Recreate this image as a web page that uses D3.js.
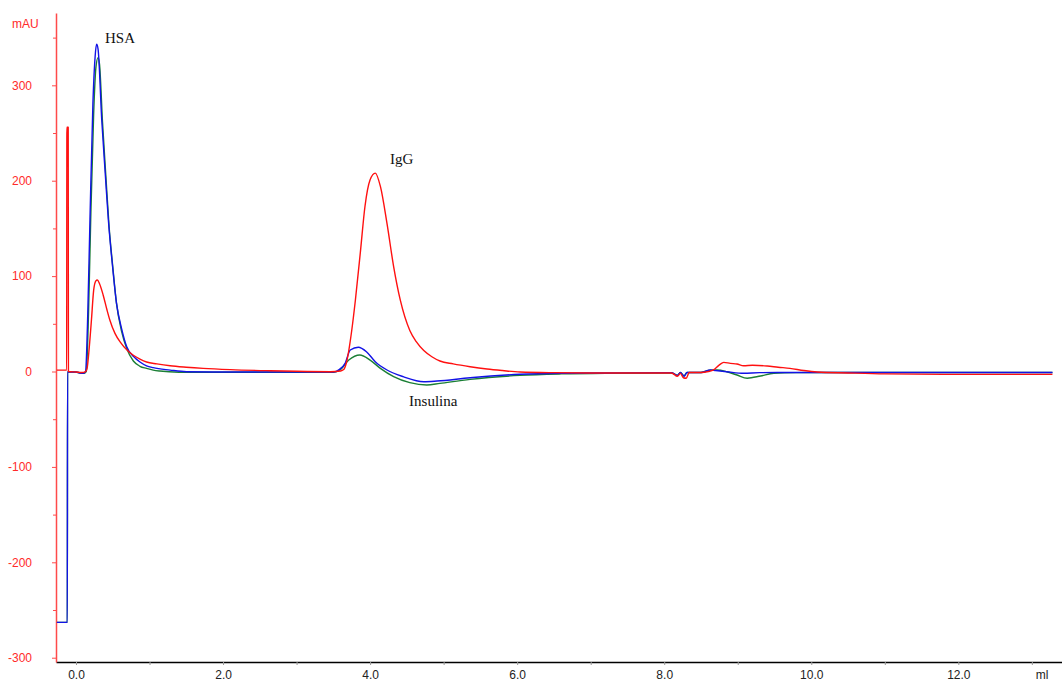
<!DOCTYPE html>
<html>
<head>
<meta charset="utf-8">
<script src="https://cdn.jsdelivr.net/npm/d3@7"></script>
<style>
  body { margin: 0; background: #fff; }
  svg { display: block; }
</style>
</head>
<body>
<div id="chart"></div>
<script>
// trace values: [ml, mAU]
const redTrace = [
  [-0.26, 1.5], [-0.127, 1.5], [-0.124, 256], [-0.106, 256], [-0.103, 0], [0.0, -0.5], [0.08, -1],
  [0.13, 0], [0.15, 3], [0.18, 25], [0.21, 54], [0.24, 85], [0.27, 95], [0.29, 96], [0.32, 92],
  [0.37, 80], [0.42, 65], [0.46, 54], [0.53, 40], [0.6, 31], [0.7, 22], [0.78, 17], [0.87, 13],
  [0.96, 10], [1.1, 8], [1.28, 6], [1.5, 4.5], [1.73, 3.3], [2.1, 2], [2.64, 0.8], [3.0, 0.2],
  [3.46, -0.2], [3.6, 0.5], [3.64, 2], [3.68, 10], [3.71, 22], [3.75, 43], [3.8, 75], [3.87, 127],
  [3.93, 173], [4.0, 201], [4.07, 208], [4.14, 194], [4.23, 155], [4.32, 110], [4.41, 75],
  [4.54, 43], [4.63, 31], [4.73, 22], [4.84, 15.5], [4.95, 11], [5.13, 8], [5.36, 5], [5.59, 2.6],
  [5.8, 1], [6.04, -0.5], [6.5, -1.2], [7.13, -1.5], [7.6, -1.5], [8.1, -1.5], [8.18, -5],
  [8.22, -2], [8.26, -6.5], [8.3, -7], [8.34, -1], [8.5, -1], [8.6, 0], [8.67, 1.6], [8.75, 7],
  [8.81, 9.6], [8.9, 8.5], [8.99, 7.9], [9.08, 6], [9.2, 6.5], [9.4, 5.8], [9.55, 4.5], [9.71, 3.3],
  [9.9, 1], [10.08, -0.5], [10.5, -1.5], [11.0, -2.5], [11.8, -3], [12.5, -3], [13.28, -3]
];
const blueTrace = [
  [-0.26, -263], [-0.118, -263], [-0.115, -0.5], [0.0, -0.5], [0.05, -1.5], [0.1, -2], [0.13, 0],
  [0.16, 60], [0.19, 159], [0.23, 281], [0.26, 330], [0.28, 343], [0.3, 338], [0.35, 264],
  [0.4, 205], [0.44, 159], [0.5, 108], [0.55, 72], [0.62, 45], [0.69, 26], [0.78, 16], [0.87, 10],
  [0.96, 6], [1.05, 4], [1.28, 1.5], [1.5, -0.2], [2.0, -0.5], [3.0, -0.5], [3.5, -0.5], [3.58, 2],
  [3.66, 8.6], [3.73, 22.5], [3.84, 25.4], [3.95, 20.8], [4.07, 10.3], [4.23, 1.6], [4.45, -5.4],
  [4.73, -10.7], [4.91, -10], [5.36, -6.5], [6.04, -2.9], [6.6, -1.8], [7.2, -1.5], [8.1, -1.2],
  [8.18, -4], [8.22, -1], [8.27, -5], [8.31, -1], [8.5, -1], [8.63, 1.6], [8.7, 1], [8.85, -0.2],
  [9.08, -1.9], [9.3, -1.2], [10.0, -1], [11.0, -1], [12.0, -1], [13.28, -1]
];
const greenTrace = [
  [-0.26, -263], [-0.118, -263], [-0.115, -0.5], [0.0, -0.5], [0.05, -1.5], [0.1, -2], [0.14, 0],
  [0.17, 60], [0.2, 159], [0.24, 270], [0.27, 318], [0.3, 329], [0.32, 322], [0.36, 262],
  [0.41, 200], [0.45, 152], [0.5, 110], [0.55, 72], [0.62, 42], [0.69, 24], [0.78, 11], [0.87, 5.5],
  [0.96, 3.3], [1.05, 1.5], [1.14, 0.5], [1.4, -0.7], [2.0, -0.8], [3.0, -0.8], [3.5, -0.8],
  [3.59, 1.6], [3.71, 12], [3.86, 17.3], [4.0, 12], [4.14, 3.3], [4.32, -5.4], [4.54, -11.7],
  [4.77, -14.2], [4.95, -12.4], [5.36, -8.2], [6.04, -4], [6.6, -2.5], [7.2, -1.8], [8.1, -1.5],
  [8.18, -4], [8.22, -1], [8.27, -4.5], [8.31, -1], [8.5, -1], [8.63, 1.5], [8.72, 1.6],
  [8.85, -0.2], [8.99, -3.7], [9.13, -7], [9.31, -4.7], [9.49, -1.9], [9.8, -1.2], [10.5, -1],
  [13.28, -1]
];

const yMajorTicks = [-300, -200, -100, 0, 100, 200, 300];
const yMinorTicks = [-250, -150, -50, 50, 150, 250, 350];
const xTicks = [0, 1, 2, 3, 4, 5, 6, 7, 8, 9, 10, 11, 12, 13];
const xLabelled = [0, 2, 4, 6, 8, 10, 12];

const peakLabels = [
  { text: 'HSA', ml: 0.395, mau: 344 },
  { text: 'IgG', ml: 4.27, mau: 218 },
  { text: 'Insulina', ml: 4.53, mau: -36 }
];

const width = 1062, height = 681;

const svg = d3.select('#chart')
  .append('svg')
  .attr('width', width)
  .attr('height', height);

const x = d3.scaleLinear().domain([-0.272, 13.41]).range([56, 1062]);
const y = d3.scaleLinear().domain([-304.5, 375.8]).range([662, 13]);

// x axis
const xAxis = svg.append('g')
  .attr('transform', `translate(0, ${y(-304.5)})`)
  .call(d3.axisBottom(x)
    .tickValues(xTicks)
    .tickSize(3)
    .tickSizeOuter(0)
    .tickPadding(5.5)
    .tickFormat(d => xLabelled.includes(d) ? d.toFixed(1) : ''));
xAxis.select('.domain').attr('stroke', '#000').attr('stroke-width', 1.5);
xAxis.selectAll('.tick line').attr('stroke', '#999');
xAxis.selectAll('text')
  .attr('fill', '#222')
  .style('font-family', '"Liberation Sans", Arial, sans-serif')
  .style('font-size', '12px');

svg.append('text')
  .attr('x', 1042)
  .attr('y', 679)
  .attr('text-anchor', 'middle')
  .attr('fill', '#222')
  .style('font-family', '"Liberation Sans", Arial, sans-serif')
  .style('font-size', '12px')
  .text('ml');

// y axis
const yMinor = svg.append('g')
  .attr('transform', `translate(${x(-0.272)}, 0)`)
  .call(d3.axisLeft(y).tickValues(yMinorTicks).tickSize(3).tickSizeOuter(0).tickFormat(''));
yMinor.select('.domain').remove();
yMinor.selectAll('.tick line').attr('stroke', '#ff4a4a');

const yAxis = svg.append('g')
  .attr('transform', `translate(${x(-0.272)}, 0)`)
  .call(d3.axisLeft(y)
    .tickValues(yMajorTicks)
    .tickSize(4)
    .tickSizeOuter(0)
    .tickPadding(20)
    .tickFormat(d => String(d)));
yAxis.select('.domain').attr('stroke', '#ff4a4a').attr('stroke-width', 1.5);
yAxis.selectAll('.tick line').attr('stroke', '#ff4a4a');
yAxis.selectAll('text')
  .attr('fill', '#ff2a2a')
  .style('font-family', '"Liberation Sans", Arial, sans-serif')
  .style('font-size', '12px');

svg.append('text')
  .attr('x', 12)
  .attr('y', 28)
  .attr('fill', '#ff2a2a')
  .style('font-family', '"Liberation Sans", Arial, sans-serif')
  .style('font-size', '12px')
  .text('mAU');

// traces
const line = d3.line()
  .x(d => x(d[0]))
  .y(d => y(d[1]))
  .curve(d3.curveMonotoneX);

const traces = [
  { data: greenTrace, color: '#1b7f35' },
  { data: blueTrace, color: '#1212e6' },
  { data: redTrace, color: '#ff1010' }
];

svg.selectAll('path.trace')
  .data(traces)
  .enter()
  .append('path')
  .attr('class', 'trace')
  .attr('fill', 'none')
  .attr('stroke', d => d.color)
  .attr('stroke-width', 1.4)
  .attr('stroke-linejoin', 'round')
  .attr('d', d => line(d.data));

// peak names
svg.selectAll('text.peak')
  .data(peakLabels)
  .enter()
  .append('text')
  .attr('class', 'peak')
  .attr('x', d => x(d.ml))
  .attr('y', d => y(d.mau))
  .attr('fill', '#111')
  .style('font-family', '"Liberation Serif", "Times New Roman", serif')
  .style('font-size', '15px')
  .text(d => d.text);
</script>
</body>
</html>
